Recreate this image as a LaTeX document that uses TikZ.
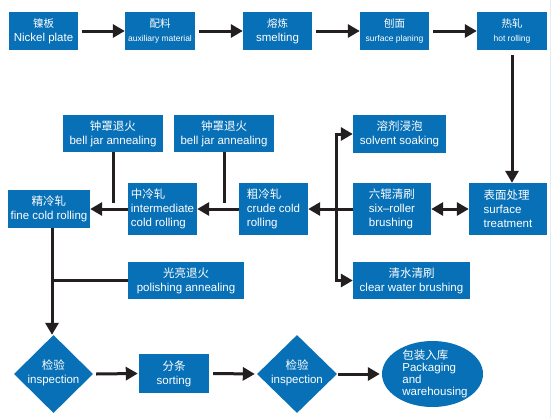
\documentclass[tikz,border=0pt]{standalone}
\usepackage{fontspec}
\setmainfont{Liberation Sans}
\newfontfamily\cjk{Noto Sans CJK SC}
\usetikzlibrary{arrows.meta,shapes.geometric}
\definecolor{pblue}{RGB}{8,112,182}
\definecolor{pline}{RGB}{35,31,32}
\definecolor{edgeblue}{RGB}{226,238,246}
\newcommand\fmain{\fontsize{11.5}{14}\selectfont}
\newcommand\fsmall{\fontsize{8.5}{14}\selectfont}
\newcommand\ftopcn{\fontsize{10.5}{14}\selectfont}
\begin{document}
\begin{tikzpicture}[x=1pt,y=-1pt,
  box/.style={rectangle, fill=pblue, text=white, inner sep=0pt, align=center, font=\fmain},
  lbox/.style={box, align=left},
  dia/.style={diamond, fill=pblue, inner sep=0pt, minimum width=79pt, minimum height=78pt},
  txt/.style={text=white, inner sep=0pt, align=center, font=\fmain},
  conn/.style={draw=pline, line width=3pt},
  arr/.style={conn, -{Triangle[length=12pt,width=13pt]}},
  darr/.style={conn, {Triangle[length=12pt,width=13pt]}-{Triangle[length=12pt,width=13pt]}}
]
\useasboundingbox (0,0) rectangle (552,418);
\fill[white] (0,0) rectangle (552,418);
\draw[edgeblue, line width=1.5pt] (550.5,0) -- (550.5,418);

% top row
\node[box, minimum width=69pt, minimum height=38pt] (n1) at (43.5,31) {{\cjk\ftopcn 镍板}\\Nickel plate};
\node[box, minimum width=70pt, minimum height=38pt] (n2) at (160,31) {{\cjk\ftopcn 配料}\\{\fsmall auxiliary material}};
\node[box, minimum width=69pt, minimum height=38pt] (n3) at (277.5,31) {{\cjk\ftopcn 熔炼}\\smelting};
\node[box, minimum width=69pt, minimum height=38pt] (n4) at (394.5,31) {{\cjk\ftopcn 刨面}\\{\fsmall surface planing}};
\node[box, minimum width=70pt, minimum height=38pt] (n5) at (512,31) {{\cjk\ftopcn 热轧}\\{\fsmall hot rolling}};

% middle
\node[box, minimum width=100pt, minimum height=37pt] (bell1) at (113,133.5) {{\cjk 钟罩退火}\\bell jar annealing};
\node[box, minimum width=100pt, minimum height=37pt] (bell2) at (224,133.5) {{\cjk 钟罩退火}\\bell jar annealing};
\node[box, minimum width=93pt, minimum height=38pt] (solvent) at (399.5,134) {{\cjk 溶剂浸泡}\\solvent soaking};
\node[box, minimum width=82pt, minimum height=38pt] (fine) at (49,209) {{\cjk 精冷轧}\\fine cold rolling};
\node[lbox, minimum width=69pt, minimum height=52pt] (inter) at (162.5,209) {{\cjk 中冷轧}\\intermediate\\cold rolling};
\node[lbox, minimum width=69pt, minimum height=52pt] (crude) at (273.5,209) {{\cjk 粗冷轧}\\crude cold\\rolling};
\node[lbox, minimum width=78pt, minimum height=52pt] (six) at (392,209) {{\cjk 六辊清刷}\\six–roller\\brushing};
\node[lbox, minimum width=78pt, minimum height=52pt] (surf) at (508,209) {{\cjk 表面处理}\\surface\\treatment};
\node[box, minimum width=116pt, minimum height=37pt] (polish) at (186,280.5) {{\cjk 光亮退火}\\polishing annealing};
\node[box, minimum width=117pt, minimum height=37pt] (clear) at (411.5,280.5) {{\cjk 清水清刷}\\clear water brushing};

% bottom
\node[dia] (d1) at (53.5,374) {};
\node[txt] (d1t) at (53.5,373) {{\cjk 检验}\\inspection};
\node[box, minimum width=70pt, minimum height=39pt] (sort) at (174,373.5) {{\cjk 分条}\\sorting};
\node[dia, minimum width=80pt] (d2) at (297,374) {};
\node[txt] (d2t) at (297,373) {{\cjk 检验}\\inspection};
\node[ellipse, fill=pblue, inner sep=0pt, minimum width=101pt, minimum height=66pt] (ell) at (432.5,374) {};
\node[txt, align=left, font=\fontsize{11.5}{12}\selectfont] (ellt) at (435,374) {{\cjk 包装入库}\\Packaging\\and\\warehousing};

% coordinates
\coordinate (b1e) at (113,203);
\coordinate (b2e) at (224,203);
\coordinate (bus) at (336,209);
\coordinate (fx) at (52,209);

% connectors top
\draw[arr] ([xshift=4pt]n1.east) -- (n2.west);
\draw[arr] ([xshift=4pt]n2.east) -- (n3.west);
\draw[arr] ([xshift=4pt]n3.east) -- (n4.west);
\draw[arr] ([xshift=4pt]n4.east) -- (n5.west);
\draw[arr] ([yshift=-5pt]n5.south) -- (n5.south |- surf.north);

% middle connectors
\draw[conn] (bell1.south) -- (b1e);
\draw[conn] (bell2.south) -- (b2e);
\draw[arr] (inter.west) -- (fine.east);
\draw[arr] (crude.west) -- (inter.east);
\draw[arr] (six.west) -- (crude.east);
\draw[arr] (bus) |- (solvent.west);
\draw[arr] (bus) |- (clear.west);
\draw[darr] (six.east) -- (surf.west);
\draw[arr] (fx |- fine.south) -- (fx |- d1.north);
\draw[conn] (polish.west) -- (polish.west -| fx);

% bottom connectors
\draw[arr] ([xshift=3pt]d1.east) -- ([xshift=-1pt]sort.west);
\draw[arr] ([xshift=4pt]sort.east) -- ([xshift=-2pt]d2.west);
\draw[arr] ([xshift=1pt]d2.east) -- ([xshift=-2pt]ell.west);
\end{tikzpicture}
\end{document}
